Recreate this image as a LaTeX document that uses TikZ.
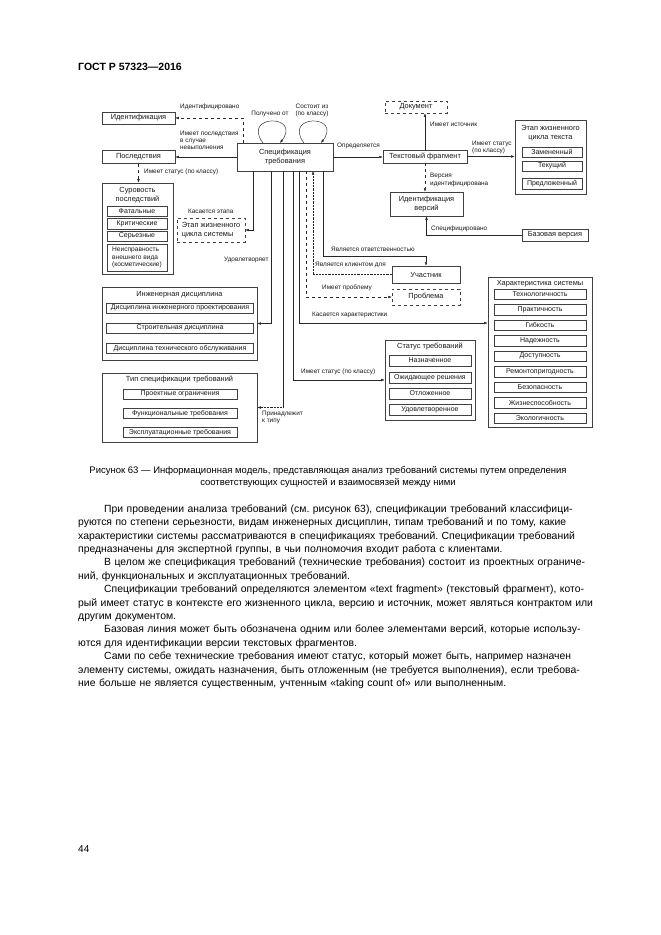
\documentclass[tikz,border=0pt]{standalone}
\usepackage{fontspec}
\setmainfont{Liberation Sans}
\usepackage{tikz}
\usetikzlibrary{arrows.meta,calc}
\frenchspacing
\tikzset{
  link/.style={-{Latex[length=3.5pt,width=2.6pt]}, line width=0.45pt, black!85},
  ent/.style={draw=black!75, line width=0.5pt, inner sep=0.5pt, align=center, text=black!90, font=\fontsize{7.4}{8.6}\selectfont},
  sub/.style={draw=black!75, line width=0.5pt, inner sep=0pt, align=center, text=black!90, font=\fontsize{7}{8}\selectfont},
  grp/.style={draw=black!75, line width=0.6pt, inner sep=0pt},
  ttl/.style={align=center, inner sep=0pt, text=black!90, font=\fontsize{7.4}{9.5}\selectfont},
  lbl/.style={anchor=west, inner sep=0pt, align=left, text=black!90, font=\fontsize{6.4}{7.2}\selectfont}
}

\begin{document}
\begin{tikzpicture}[x=1pt,y=-1pt]
    \useasboundingbox (0,0) rectangle (661,935);
    \fill[white] (0,0) rectangle (661,935);

    %page header
    \node[anchor=west, inner sep=0pt, font=\fontsize{10.5}{12}\selectfont\bfseries] (head) at (78,67) {ГОСТ Р 57323—2016};

    %central entity with its two self loops
    \node[ent, minimum width=96, minimum height=28] (spec) at (285,157) {Спецификация\\требования};
    \coordinate (p1) at (263,143);
    \coordinate (p2) at (280,143);
    \coordinate (p3) at (304,143);
    \coordinate (p4) at (321,143);
    \draw[link] (p1) .. controls (241,114) and (302,114) .. (p2);
    \draw[link] (p3) .. controls (282,114) and (343,114) .. (p4);
    \node[lbl, anchor=center] (lgot) at (270,114) {Получено от};
    \node[lbl, anchor=center, align=center] (lcons) at (312,110.5) {Состоит из\\(по классу)};

    %left column
    \node[ent, minimum width=73, minimum height=12] (ident) at (138.5,118) {Идентификация};
    \node[ent, minimum width=73, minimum height=13] (cons) at (138.5,157) {Последствия};
    \node[grp, minimum width=71, minimum height=91] (sev) at (137.5,228.5) {};
    \node[ttl] (sevt) at (137.5,195) {Суровость\\последствий};
    \node[sub, minimum width=60, minimum height=10] (sev1) at (137,211) {Фатальные};
    \node[sub, minimum width=60, minimum height=11] (sev2) at (137,223.5) {Критические};
    \node[sub, minimum width=60, minimum height=10] (sev3) at (137,236) {Серьезные};
    \node[sub, minimum width=60, minimum height=27, align=left, font=\fontsize{6.6}{7.8}\selectfont] (sev4) at (137,257.5) {Неисправность\\внешнего вида\\(косметические)};
    \node[ent, dashed, minimum width=68, minimum height=24, align=left] (etap) at (211,230) {Этап жизненного\\цикла системы};

    %engineering disciplines
    \node[grp, minimum width=155, minimum height=73] (eng) at (179.5,323.5) {};
    \node[ttl] (engt) at (179.5,295) {Инженерная дисциплина};
    \node[sub, minimum width=147, minimum height=10] (eng1) at (180,308) {Дисциплина инженерного проектирования};
    \node[sub, minimum width=147, minimum height=10] (eng2) at (180,328) {Строительная дисциплина};
    \node[sub, minimum width=147, minimum height=10] (eng3) at (180,348.5) {Дисциплина технического обслуживания};

    %requirement types
    \node[grp, minimum width=155, minimum height=69] (typ) at (179.5,407.5) {};
    \node[ttl] (typt) at (179.5,380) {Тип спецификации требований};
    \node[sub, minimum width=114, minimum height=10] (typ1) at (180,394) {Проектные ограничения};
    \node[sub, minimum width=114, minimum height=10] (typ2) at (180,413.5) {Функциональные требования};
    \node[sub, minimum width=114, minimum height=10] (typ3) at (180,432.5) {Эксплуатационные требования};

    %right column
    \node[ent, dashed, minimum width=62, minimum height=12] (doc) at (416,107) {Документ};
    \node[ent, minimum width=84, minimum height=13] (frag) at (425,156.5) {Текстовый фрагмент};
    \node[grp, minimum width=71, minimum height=74] (etxt) at (550.5,157) {};
    \node[ttl] (etxtt) at (550.5,133) {Этап жизненного\\цикла текста};
    \node[sub, minimum width=60, minimum height=10] (etxt1) at (552,152) {Замененный};
    \node[sub, minimum width=60, minimum height=10] (etxt2) at (552,166) {Текущий};
    \node[sub, minimum width=60, minimum height=11] (etxt3) at (552,183.5) {Предложенный};
    \node[ent, minimum width=73, minimum height=24] (ver) at (426.5,204) {Идентификация\\версий};
    \node[ent, minimum width=66, minimum height=12] (base) at (555,235) {Базовая версия};
    \node[ent, minimum width=68, minimum height=17] (part) at (426,274.5) {Участник};
    \node[ent, dashed, minimum width=68, minimum height=16] (prob) at (426,297) {Проблема};

    %system characteristics
    \node[grp, minimum width=104, minimum height=150] (char) at (540,352) {};
    \node[ttl] (chart) at (540,283.5) {Характеристика системы};
    \node[sub, minimum width=92, minimum height=10.5] (ch1) at (540,294.25) {Технологичность};
    \node[sub, minimum width=92, minimum height=10.5] (ch2) at (540,309.75) {Практичность};
    \node[sub, minimum width=92, minimum height=10.5] (ch3) at (540,325.25) {Гибкость};
    \node[sub, minimum width=92, minimum height=10.5] (ch4) at (540,340.75) {Надежность};
    \node[sub, minimum width=92, minimum height=10.5] (ch5) at (540,356.25) {Доступность};
    \node[sub, minimum width=92, minimum height=10.5] (ch6) at (540,371.75) {Ремонтопригодность};
    \node[sub, minimum width=92, minimum height=10.5] (ch7) at (540,387.25) {Безопасность};
    \node[sub, minimum width=92, minimum height=10.5] (ch8) at (540,402.75) {Жизнеспособность};
    \node[sub, minimum width=92, minimum height=10.5] (ch9) at (540,418.25) {Экологичность};

    %requirement status
    \node[grp, minimum width=90, minimum height=80] (status) at (430,380) {};
    \node[ttl] (statust) at (430,347) {Статус требований};
    \node[sub, minimum width=82, minimum height=11] (st1) at (430,360.5) {Назначенное};
    \node[sub, minimum width=82, minimum height=11] (st2) at (430,377.5) {Ожидающее решения};
    \node[sub, minimum width=82, minimum height=11] (st3) at (430,393.5) {Отложенное};
    \node[sub, minimum width=82, minimum height=11] (st4) at (430,409.5) {Удовлетворенное};

    %links on the left of the specification
    \coordinate (s1) at (243,143);
    \draw[link, dashed] (s1) |- (ident.east);
    \draw[link] (spec.west) -- (spec.west -| cons.east);
    \draw[link, dashed] (cons.south) -- (cons.south |- sev.north);
    \node[lbl] (lid) at (180,107) {Идентифицировано};
    \node[lbl] (lfail) at (180,140.5) {Имеет последствия\\в случае\\невыполнения};
    \node[lbl] (lsev) at (144,172) {Имеет статус (по классу)};

    %links on the right of the specification
    \draw[link] (spec.east) -- (spec.east -| frag.west);
    \draw[link] (frag.north) -- (frag.north |- doc.south);
    \draw[link] (frag.east) -- (frag.east -| etxt.west);
    \draw[link, dashed] (frag.south) -- (frag.south |- ver.north);
    \draw[link] (base.west) -| (ver.south);
    \node[lbl] (ldef) at (337,146) {Определяется};
    \node[lbl] (lsrc) at (430,124) {Имеет источник};
    \node[lbl] (ltst) at (472,147.5) {Имеет статус\\(по классу)};
    \node[lbl] (lver) at (430,180) {Версия\\идентифицирована};
    \node[lbl] (lbas) at (431,229) {Специфицировано};

    %links from the bottom of the specification
    \coordinate (t1) at (253,171);
    \coordinate (t2) at (271,171);
    \coordinate (t3) at (283,171);
    \coordinate (t4) at (293,171);
    \coordinate (t5) at (299,171);
    \coordinate (t6) at (306,171);
    \coordinate (t7) at (313,171);
    \coordinate (t8) at (323,171);
    \draw[link] (t1) |- (etap.east);
    \draw[link] (t2) |- (eng.east);
    \draw[line width=0.45pt, black!85] (t3) -- (t3 |- typ.east);
    \draw[link, densely dotted] (t3 |- typ.east) -- (typ.east);
    \draw[link] (t4) |- (status.west);
    \draw[link] (t5) |- ([yshift=29pt]char.west);
    \draw[link, dashed] (t6) |- (prob.west);
    \draw[link, densely dotted] (part.west) -| (t7);
    \draw[link] (t8) |- ([yshift=10pt]part.north) -- (part.north);
    \node[lbl] (lstage) at (188,211) {Касается этапа};
    \node[lbl] (lsat) at (224,260) {Удовлетворяет};
    \node[lbl] (lresp) at (331,249) {Является ответственностью};
    \node[lbl] (lcli) at (315,265) {Является клиентом для};
    \node[lbl] (lprob) at (322,288) {Имеет проблему};
    \node[lbl] (lchar) at (312,315) {Касается характеристики};
    \node[lbl] (lstat) at (301,372) {Имеет статус (по классу)};
    \node[lbl] (ltype) at (262,417.5) {Принадлежит\\к типу};

    %caption and body text
    \node[align=center, inner sep=0pt, font=\fontsize{9.5}{12.4}\selectfont] (cap) at (328,477) {Рисунок 63 — Информационная модель, представляющая анализ требований системы путем определения\\соответствующих сущностей и взаимосвязей между ними};
    \node[anchor=north west, inner sep=0pt, align=left, text width=499pt, font=\fontsize{10.4}{13.4}\selectfont] (body) at (78,504.3) {%
      \makebox[499pt][s]{\hspace*{26pt}При проведении анализа требований (см. рисунок 63), спецификации требований классифици-}\\
      \makebox[499pt][s]{руются по степени серьезности, видам инженерных дисциплин, типам требований и по тому, какие}\\
      \makebox[499pt][s]{характеристики системы рассматриваются в спецификациях требований. Спецификации требований}\\
      предназначены для экспертной группы, в чьи полномочия входит работа с клиентами.\\
      \makebox[499pt][s]{\hspace*{26pt}В целом же спецификация требований (технические требования) состоит из проектных ограниче-}\\
      ний, функциональных и эксплуатационных требований.\\
      \makebox[499pt][s]{\hspace*{26pt}Спецификации требований определяются элементом «text fragment» (текстовый фрагмент), кото-}\\
      \makebox[499pt][s]{рый имеет статус в контексте его жизненного цикла, версию и источник, может являться контрактом или}\\
      другим документом.\\
      \makebox[499pt][s]{\hspace*{26pt}Базовая линия может быть обозначена одним или более элементами версий, которые использу-}\\
      ются для идентификации версии текстовых фрагментов.\\
      \makebox[499pt][s]{\hspace*{26pt}Сами по себе технические требования имеют статус, который может быть, например назначен}\\
      \makebox[499pt][s]{элементу системы, ожидать назначения, быть отложенным (не требуется выполнения), если требова-}\\
      ние больше не является существенным, учтенным «taking count of» или выполненным.};

    %page number
    \node[anchor=west, inner sep=0pt, font=\fontsize{10}{12}\selectfont] (pnum) at (78,849) {44};
\end{tikzpicture}
\end{document}
